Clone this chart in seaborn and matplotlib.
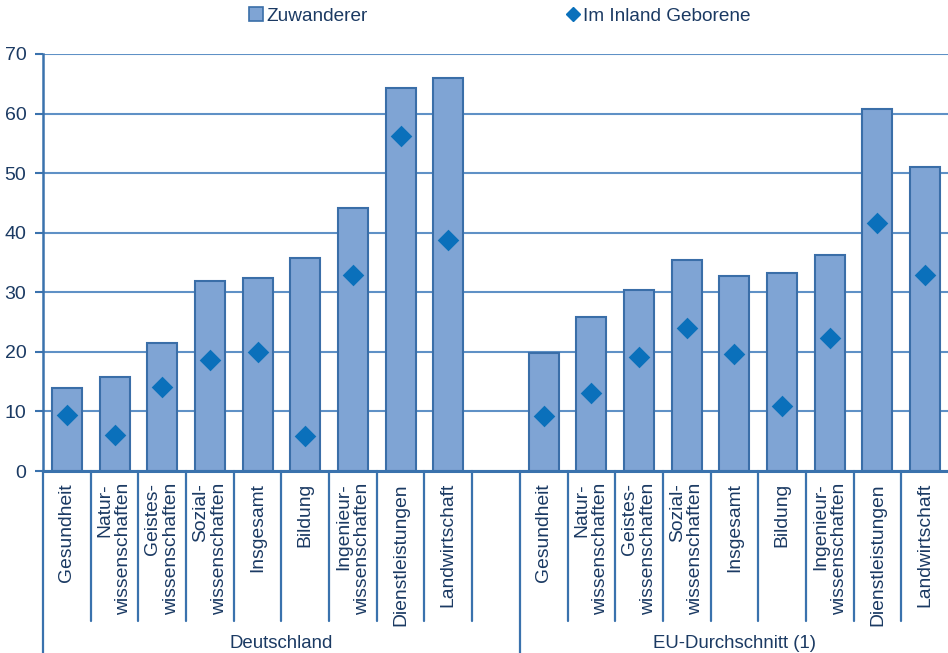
import numpy as np
import pandas as pd
import matplotlib
matplotlib.use("Agg")
import matplotlib.pyplot as plt
import matplotlib.transforms as mtransforms
from matplotlib.lines import Line2D
from matplotlib.patches import Patch
import seaborn as sns

# --- data ---------------------------------------------------------------
categories = ["Gesundheit", "Natur-\nwissenschaften", "Geistes-\nwissenschaften",
              "Sozial-\nwissenschaften", "Insgesamt", "Bildung",
              "Ingenieur-\nwissenschaften", "Dienstleistungen", "Landwirtschaft"]
groups = ["Deutschland", "EU-Durchschnitt (1)"]

zuwanderer_de = [13.9, 15.8, 21.5, 31.9, 32.4, 35.8, 44.1, 64.3, 65.9]
inland_de = [9.4, 6.0, 14.1, 18.6, 20.0, 5.8, 32.9, 56.3, 38.8]

zuwanderer_eu = [19.8, 25.9, 30.4, 35.4, 32.8, 33.3, 36.3, 60.7, 51.0]
inland_eu = [9.2, 13.1, 19.1, 24.0, 19.6, 10.9, 22.3, 41.7, 32.9]

yticks = [0, 10, 20, 30, 40, 50, 60, 70]

# --- long table with one empty slot between the groups --------------------
rows = []
for g, zw, ib in [(groups[0], zuwanderer_de, inland_de), (groups[1], zuwanderer_eu, inland_eu)]:
    for c, z, i in zip(categories, zw, ib):
        rows.append({"slot": f"{g}|{c}", "Zuwanderer": z, "Im Inland Geborene": i})
gap_key = "gap"
rows.append({"slot": gap_key, "Zuwanderer": np.nan, "Im Inland Geborene": np.nan})
df = pd.DataFrame(rows)
order = [f"{groups[0]}|{c}" for c in categories] + [gap_key] + [f"{groups[1]}|{c}" for c in categories]

# --- styling -------------------------------------------------------------
sns.set_theme(style="white")
plt.rcParams["font.family"] = ["Liberation Sans", "DejaVu Sans"]
text_col = "#1b3a63"
axis_col = "#3a72ad"
grid_col = "#5f91c6"
bar_face = "#7fa4d4"
bar_edge = "#3a6ea8"
diamond_col = "#0a70bb"

fig = plt.figure(figsize=(9.48, 6.53), dpi=100)
ax = fig.add_axes([43 / 948, 1 - 471 / 653, 906 / 948, 417 / 653])

sns.barplot(data=df, x="slot", y="Zuwanderer", order=order, ax=ax,
            color=bar_face, saturation=1, width=0.63,
            edgecolor=bar_edge, linewidth=1.5, zorder=2)
sns.stripplot(data=df, x="slot", y="Im Inland Geborene", order=order, ax=ax,
              jitter=False, marker="D", size=11, color=diamond_col,
              linewidth=0, zorder=3)

ax.set_xlim(-0.5, len(order) - 0.5)
ax.set_ylim(0, 70)
ax.set_yticks(yticks)
ax.set_yticklabels([str(t) for t in yticks], fontsize=14, color=text_col)
ax.set_xticks([])
ax.set_xlabel("")
ax.set_ylabel("")
ax.yaxis.grid(True, color=grid_col, linewidth=1.5, zorder=0)
ax.set_axisbelow(True)
ax.tick_params(axis="y", length=6, width=1.5, color=axis_col, pad=6, left=True)
for side in ["top", "right"]:
    ax.spines[side].set_visible(False)
ax.spines["left"].set_color(axis_col)
ax.spines["left"].set_linewidth(1.8)
ax.spines["bottom"].set_color(axis_col)
ax.spines["bottom"].set_linewidth(2.2)
ax.spines["bottom"].set_zorder(4)

# --- two-level category axis ---------------------------------------------
trans = mtransforms.blended_transform_factory(ax.transData, fig.transFigure)
y_axis = 1 - 471 / 653
y_sep = 1 - 621 / 653
for i, key in enumerate(order):
    if key == gap_key:
        continue
    label = key.split("|", 1)[1]
    ax.text(i, 1 - 483 / 653, label, transform=trans, rotation=90,
            ha="center", va="top", multialignment="right",
            fontsize=13.9, color=text_col, linespacing=1.12, clip_on=False)

gap_idx = order.index(gap_key)
for b in range(len(order)):
    xb = b - 0.5
    top_end = 0 if (b == 0 or b == gap_idx + 1) else y_sep
    ax.add_line(Line2D([xb, xb], [y_axis, top_end], transform=trans,
                       color=axis_col, linewidth=1.6, clip_on=False))

ax.text((-0.5 + gap_idx + 0.5) / 2, 1 - 643 / 653, groups[0], transform=trans,
        ha="center", va="center", fontsize=13.4, color=text_col)
ax.text((gap_idx + 0.5 + len(order) - 0.5) / 2, 1 - 643 / 653, groups[1], transform=trans,
        ha="center", va="center", fontsize=13.4, color=text_col)

# --- legend --------------------------------------------------------------
handles = [Patch(facecolor=bar_face, edgecolor=bar_edge, linewidth=1.2),
           Line2D([], [], marker="D", linestyle="none", color=diamond_col, markersize=7)]
fig.legend(handles, ["Zuwanderer", "Im Inland Geborene"], loc="center",
           bbox_to_anchor=(500 / 948, 1 - 16 / 653), ncol=2, frameon=False,
           fontsize=13.7, handlelength=0.7, handleheight=0.7, handletextpad=0.2,
           columnspacing=10.4, labelcolor=text_col)

fig.savefig("out.png", dpi=100)
